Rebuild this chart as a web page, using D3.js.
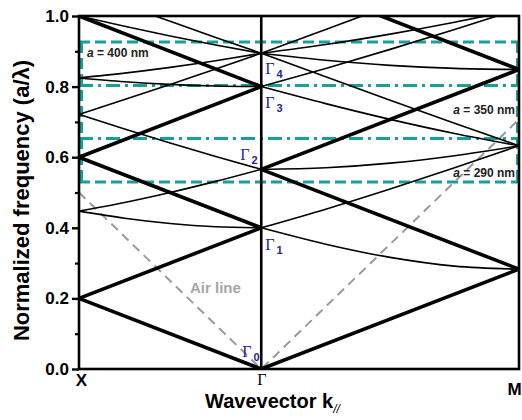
<!DOCTYPE html>
<html>
<head>
<meta charset="utf-8">
<script src="https://cdn.jsdelivr.net/npm/d3@7/dist/d3.min.js"></script>
<style>
  html, body { margin: 0; padding: 0; background: #fff; }
  svg { display: block; }
</style>
</head>
<body>
<svg id="chart" width="522" height="420"></svg>
<script>
// Path through the Brillouin zone: X -> Γ -> M (k in units of 2π/a)
const kTicks = [-0.5, 0, 0.7071];
const kTickLabels = ["X", "Γ", "M"];
const freqTicks = [0, 0.2, 0.4, 0.6, 0.8, 1.0];
const freqMinorTicks = [0.1, 0.3, 0.5, 0.7, 0.9];

// sample positions along each segment
const kXG = [-0.5, -0.375, -0.25, -0.125, 0];
const kGM = [0, 0.1768, 0.3536, 0.5303, 0.7071];

// straight bands: [frequency at start, frequency at end] of each segment
const thickXG = [[0.2, 0], [0.2, 0.4], [0.6, 0.4], [0.6, 0.8], [1.0, 0.8]];
const thickGM = [[0, 0.2828], [0.5657, 0.2828], [0.5657, 0.8485], [1.1314, 0.8485]];

// curved bands, frequency at each sample position
const thinXG = [
  [0.4472, 0.4272, 0.4123, 0.4031, 0.4000],
  [0.4472, 0.4717, 0.5000, 0.5315, 0.5657],
  [0.7211, 0.6801, 0.6403, 0.6021, 0.5657],
  [0.7211, 0.7632, 0.8062, 0.8500, 0.8944],
  [1.0770, 1.0308, 0.9849, 0.9394, 0.8944],
  [0.8246, 0.8139, 0.8062, 0.8016, 0.8000],
  [0.8246, 0.8381, 0.8544, 0.8732, 0.8944],
  [1.0000, 0.9708, 0.9434, 0.9179, 0.8944]
];
const thinGM = [
  [0.4000, 0.3536, 0.3162, 0.2915, 0.2828],
  [0.4000, 0.4528, 0.5099, 0.5701, 0.6325],
  [0.5657, 0.5701, 0.5831, 0.6042, 0.6325],
  [0.8000, 0.8515, 0.9055, 0.9618, 1.0198],
  [0.8000, 0.7517, 0.7071, 0.6671, 0.6325],
  [0.8944, 0.9618, 1.0296, 1.0977, 1.1662],
  [0.8944, 0.9192, 0.9487, 0.9823, 1.0198],
  [0.8944, 0.8747, 0.8602, 0.8515, 0.8485],
  [0.8944, 0.8276, 0.7616, 0.6964, 0.6325]
];

// light line ω = c|k|
const airLineK = [-0.5, 0, 0.7071];
const airLineF = [0.5, 0, 0.7071];

// Γ-point levels
const gammaNames = ["0", "1", "2", "3", "4"];
const gammaFreqs = [0, 0.4, 0.5657, 0.8, 0.8944];

// visible-range bounds for several lattice constants
const boxLevels = [0.926, 0.530];          // dashed
const dashDotLevels = [0.803, 0.653];      // dash-dot
const latticeLabels = ["400", "350", "290"];

const svg = d3.select("#chart");
const plotLeft = 79, plotRight = 519, plotTop = 16, plotBottom = 369;
const x = d3.scaleLinear().domain([-0.5, 0.7071]).range([plotLeft, plotRight]);
const y = d3.scaleLinear().domain([0, 1]).range([plotBottom, plotTop]);

const SANS = "'Liberation Sans', Arial, Helvetica, sans-serif";
const SERIF = "'Liberation Serif', 'Times New Roman', serif";
const TEAL = "#17a098";
const NAVY = "#24249a";

svg.append("defs").append("clipPath").attr("id", "plot")
  .append("rect").attr("x", plotLeft).attr("y", plotTop)
  .attr("width", plotRight - plotLeft).attr("height", plotBottom - plotTop);

const plot = svg.append("g").attr("clip-path", "url(#plot)");

// teal reference lines
const teal = plot.append("g").attr("stroke", TEAL).attr("stroke-width", 3).attr("fill", "none");
boxLevels.forEach(f => {
  teal.append("line").attr("x1", plotLeft).attr("x2", plotRight)
    .attr("y1", y(f)).attr("y2", y(f)).attr("stroke-dasharray", "11,5");
});
dashDotLevels.forEach(f => {
  teal.append("line").attr("x1", plotLeft).attr("x2", plotRight)
    .attr("y1", y(f)).attr("y2", y(f)).attr("stroke-dasharray", "14,5,3,5");
});
[plotLeft + 2.5, plotRight - 1.5].forEach(px => {
  teal.append("line").attr("x1", px).attr("x2", px)
    .attr("y1", y(boxLevels[0])).attr("y2", y(boxLevels[1]))
    .attr("stroke-dasharray", "11,5");
});

// air line
const line = d3.line().x(d => x(d[0])).y(d => y(d[1]));
plot.append("path")
  .datum(d3.zip(airLineK, airLineF))
  .attr("d", line)
  .attr("fill", "none").attr("stroke", "#9a9a9a")
  .attr("stroke-width", 2).attr("stroke-dasharray", "9,6");

// bands
const curve = d3.line().x(d => x(d[0])).y(d => y(d[1])).curve(d3.curveMonotoneX);
const bands = plot.append("g").attr("fill", "none").attr("stroke", "#000");
thinXG.forEach(f => bands.append("path").datum(d3.zip(kXG, f)).attr("d", curve).attr("stroke-width", 1.6));
thinGM.forEach(f => bands.append("path").datum(d3.zip(kGM, f)).attr("d", curve).attr("stroke-width", 1.6));
thickXG.forEach(f => bands.append("path").datum([[kTicks[0], f[0]], [kTicks[1], f[1]]]).attr("d", line).attr("stroke-width", 3.6));
thickGM.forEach(f => bands.append("path").datum([[kTicks[1], f[0]], [kTicks[2], f[1]]]).attr("d", line).attr("stroke-width", 3.6));

// frame and Γ divider
svg.append("rect").attr("x", plotLeft).attr("y", plotTop)
  .attr("width", plotRight - plotLeft).attr("height", plotBottom - plotTop)
  .attr("fill", "none").attr("stroke", "#000").attr("stroke-width", 2.6);
svg.append("line").attr("x1", x(0)).attr("x2", x(0)).attr("y1", plotTop).attr("y2", plotBottom)
  .attr("stroke", "#000").attr("stroke-width", 2.6);

// y axis
const yAxis = svg.append("g").attr("transform", `translate(${plotLeft},0)`)
  .call(d3.axisLeft(y).tickValues(freqTicks).tickFormat(d3.format(".1f")).tickSize(7).tickPadding(3));
yAxis.select(".domain").remove();
yAxis.selectAll(".tick line").attr("stroke-width", 2.4);
yAxis.selectAll(".tick text").attr("font-family", SANS).attr("font-size", 17)
  .attr("font-weight", "bold").attr("fill", "#000");
const yMinor = svg.append("g").attr("transform", `translate(${plotLeft},0)`)
  .call(d3.axisLeft(y).tickValues(freqMinorTicks).tickFormat("").tickSize(4));
yMinor.select(".domain").remove();
yMinor.selectAll(".tick line").attr("stroke-width", 2.2);

// x axis labels
const xAxis = svg.append("g").attr("transform", `translate(0,${plotBottom})`)
  .call(d3.axisBottom(x).tickValues(kTicks).tickFormat((d, i) => kTickLabels[i]).tickSize(0).tickPadding(5));
xAxis.select(".domain").remove();
xAxis.selectAll(".tick text")
  .attr("font-family", (d, i) => i === 1 ? SERIF : SANS)
  .attr("font-weight", (d, i) => i === 1 ? "normal" : "bold")
  .attr("font-size", (d, i) => i === 1 ? 16 : 17)
  .attr("fill", "#000")
  .attr("dx", (d, i) => i === 0 ? 2 : (i === 2 ? -5 : 0))
  .attr("dy", (d, i) => i === 2 ? "1.25em" : "0.71em");

// axis titles
svg.append("text")
  .attr("transform", `translate(29,${(plotTop + plotBottom) / 2 + 8}) rotate(-90)`)
  .attr("text-anchor", "middle")
  .attr("font-family", SANS).attr("font-size", 22).attr("font-weight", "bold")
  .text("Normalized frequency (a/λ)");

const xt = svg.append("text")
  .attr("x", 205).attr("y", 408)
  .attr("font-family", SANS).attr("font-size", 20).attr("font-weight", "bold");
xt.append("tspan").text("Wavevector k");
xt.append("tspan").attr("dy", 5).attr("font-size", 12).attr("font-style", "italic")
  .attr("font-weight", "normal").text("//");

// Γ-point labels
const gammaOffsets = [[-19, -12], [4, 22], [-21, -9], [4, 21], [4, 21]];
gammaFreqs.forEach((f, i) => {
  const t = svg.append("text")
    .attr("x", x(0) + gammaOffsets[i][0])
    .attr("y", y(f) + gammaOffsets[i][1])
    .attr("fill", NAVY).attr("font-family", SERIF).attr("font-size", 16);
  t.append("tspan").text("Γ");
  t.append("tspan").attr("dx", 2).attr("dy", 4).attr("font-size", 11)
    .attr("font-family", SANS).attr("font-weight", "bold").text(gammaNames[i]);
});

// lattice-constant labels
const latticePlace = [[87, 57, "start"], [515, 114, "end"], [515, 177, "end"]];
latticeLabels.forEach((v, i) => {
  const t = svg.append("text")
    .attr("x", latticePlace[i][0]).attr("y", latticePlace[i][1])
    .attr("text-anchor", latticePlace[i][2])
    .attr("font-family", SANS).attr("font-size", 12).attr("font-weight", "bold")
    .attr("fill", "#222");
  t.append("tspan").attr("font-style", "italic").text("a");
  t.append("tspan").text(` = ${v} nm`);
});

// air line label
svg.append("text").attr("x", 190).attr("y", 293)
  .attr("font-family", SANS).attr("font-size", 15).attr("font-weight", "bold")
  .attr("fill", "#a6a6a6").text("Air line");
</script>
</body>
</html>
